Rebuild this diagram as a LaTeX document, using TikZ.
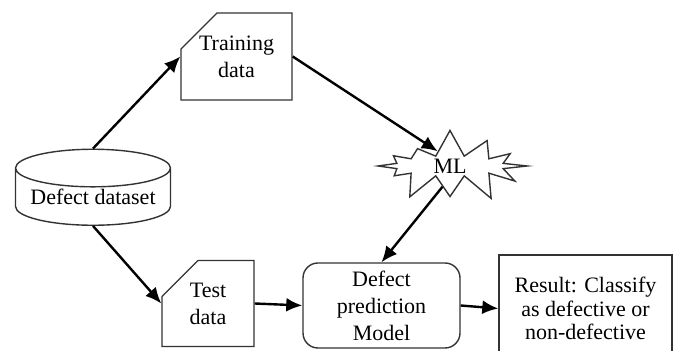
\documentclass[tikz,border=0pt]{standalone}
\usepackage{fontspec}
\setmainfont{Liberation Serif}
\usetikzlibrary{shapes.geometric, shapes.misc, shapes.symbols, arrows.meta, positioning}

\begin{document}
\begin{tikzpicture}[x=0.5pt, y=-0.5pt, >={Latex[length=8pt,width=7pt]},
  every node/.style={font=\fontsize{11}{13.5}\selectfont, align=center, inner sep=0pt},
  box/.style={draw=black!80, line width=0.7pt},
  datafile/.style={box, chamfered rectangle, chamfered rectangle corners=north west,
    chamfered rectangle xsep=9pt, chamfered rectangle ysep=9pt},
  flow/.style={->, line width=1.2pt}]
  \path[use as bounding box, clip] (0,0) rectangle (675,351);

  % data sources
  \node [box, cylinder, shape border rotate=90, aspect=0.3, minimum width=77.5pt,
    minimum height=38pt] (dataset) at (93,197) {Defect dataset};
  \node [datafile, minimum width=49.5pt, minimum height=43.5pt] (train) at (236.5,56.5) {Training\\data};
  \node [datafile, minimum width=46pt, minimum height=43pt] (test) at (208,303.5) {Test\\data};

  % learning
  \node [box, starburst, starburst points=12, starburst point height=14pt, random starburst=7,
    minimum width=83pt, minimum height=38pt] (ml) at (450,166) {ML};
  \node [box, rounded corners=7.5pt, minimum width=78.5pt, minimum height=42.5pt] (model)
    at (381.5,305.5) {Defect\\prediction\\Model};
  \node [box, minimum width=86.5pt, minimum height=53.5pt,
    font=\fontsize{11}{11.75}\selectfont] (result) at (585.5,308.5)
    {Result: Classify\\as defective or\\non-defective};

  \draw [flow] (dataset.north) -- (train.west);
  \draw [flow] (dataset.south) -- (test.west);
  \draw [flow] (train.east) -- (ml.130);
  \draw [flow] (ml.250) -- (model.north);
  \draw [flow] (test.east) -- (model.west);
  \draw [flow] (model.east) -- (result.west);
\end{tikzpicture}
\end{document}
